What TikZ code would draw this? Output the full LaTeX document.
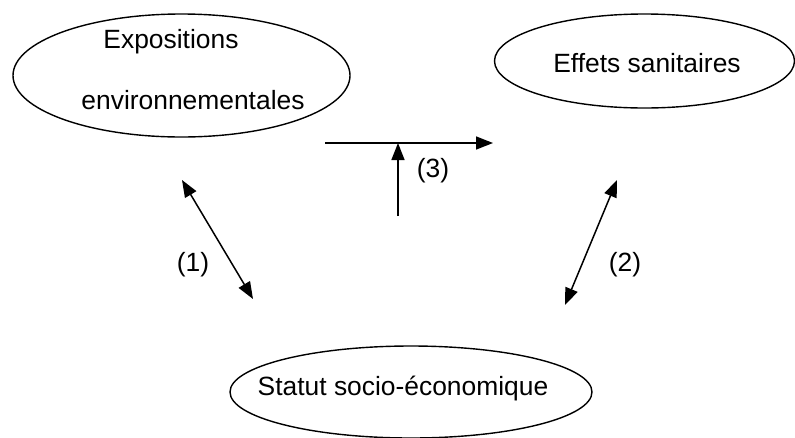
\documentclass[tikz,border=0pt]{standalone}
\usepackage{fontspec}
\setmainfont{Liberation Sans}
\usetikzlibrary{shapes.geometric, arrows.meta}
\tikzstyle{blob} = [shape=ellipse,draw=black,line width=1.4pt,inner sep=0pt]
\tikzstyle{txt} = [anchor=base,inner sep=0pt,font=\fontsize{26.4}{30}\selectfont]
\tikzstyle{arrow} = [line width=1.5pt,-{Triangle[length=17pt,width=13pt]}]
\tikzstyle{dblarrow} = [line width=1.5pt,{Triangle[length=17pt,width=13pt]}-{Triangle[length=17pt,width=13pt]}]

\begin{document}
\begin{tikzpicture}[x=1pt,y=-1pt]
    \clip (0,0) rectangle (795,437);
    \node[blob,minimum width=337pt,minimum height=123pt] (expo) at (181.5,75.5) {};
    \node[blob,minimum width=300pt,minimum height=94pt] (effets) at (644.5,61) {};
    \node[blob,minimum width=362pt,minimum height=92pt] (statut) at (411,392) {};

    \node[txt] (expoA) at (171,48) {Expositions};
    \node[txt] (expoB) at (193,109) {environnementales};
    \node[txt] (effetsT) at (647,72) {Effets sanitaires};
    \node[txt] (statutT) at (403,395) {Statut socio-économique};

    \coordinate (a1) at (182,180);
    \coordinate (b1) at (253,299);
    \coordinate (a2) at (617,180);
    \coordinate (b2) at (565,305);
    \coordinate (h1) at (325,143);
    \coordinate (h2) at (493,143);
    \coordinate (v1) at (398,216);

    \draw[dblarrow] (a1) -- (b1);
    \draw[dblarrow] (a2) -- (b2);
    \draw[arrow] (h1) -- (h2);
    \draw[arrow] (v1) -- (v1 |- h1);

    \node[txt] (n1) at (193,271.5) {(1)};
    \node[txt] (n2) at (625,271.5) {(2)};
    \node[txt] (n3) at (433,177.5) {(3)};
\end{tikzpicture}
\end{document}
